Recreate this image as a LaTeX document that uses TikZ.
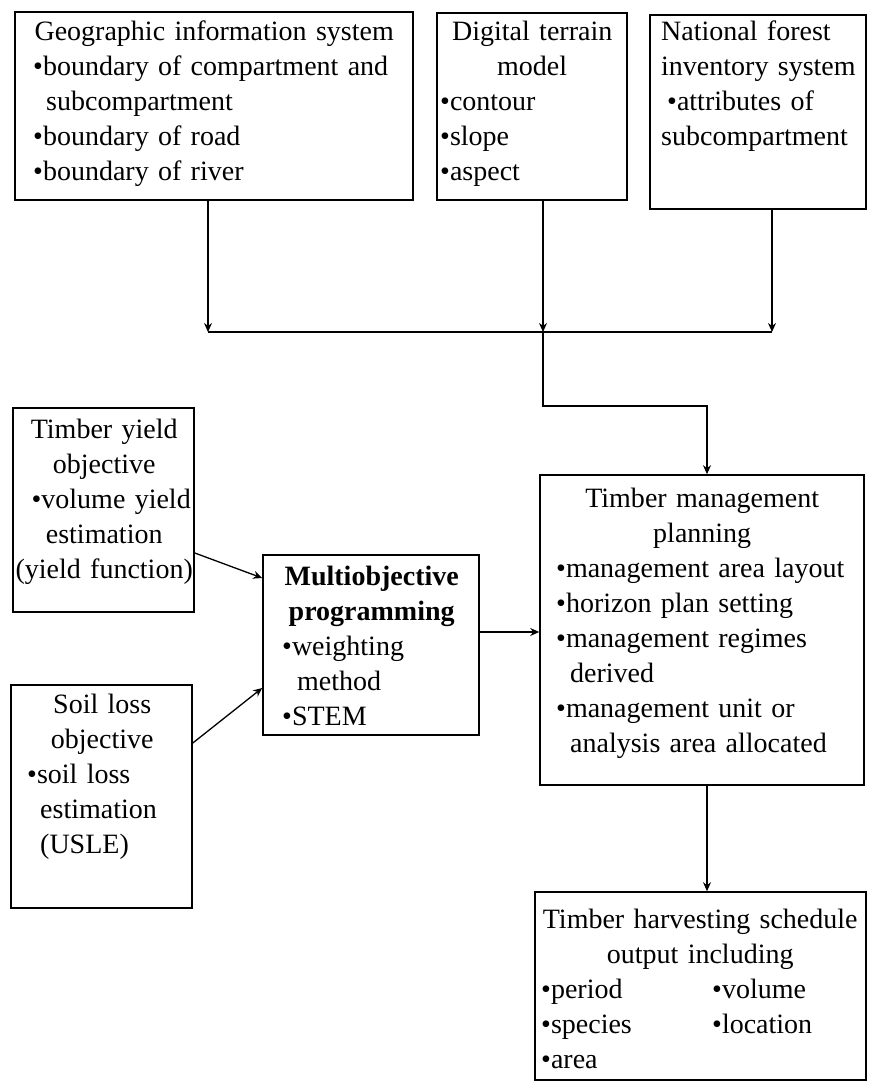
\documentclass[tikz,border=0pt]{standalone}
\usepackage{fontspec}
\setmainfont{Liberation Serif}
\usetikzlibrary{arrows.meta}
\newcommand\cl[1]{\makebox[\linewidth]{#1}}
\tikzset{
  box/.style={draw, line width=1.6pt, inner sep=0pt},
  txt/.style={inner sep=0pt, anchor=north west, align=left, font=\fontsize{28}{35}\selectfont},
  arr/.style={line width=1.3pt, -{Stealth[length=9pt,width=8pt]}},
  ln/.style={line width=1.3pt},
}
\begin{document}
\begin{tikzpicture}[x=1pt,y=-1pt]
\useasboundingbox (0,0) rectangle (868,1083);
% boxes
\node[box, minimum width=398pt, minimum height=188pt] (gis) at (214,106) {};
\node[box, minimum width=190pt, minimum height=187pt] (dtm) at (532,106.5) {};
\node[box, minimum width=216pt, minimum height=194pt] (nfi) at (758,112) {};
\node[box, minimum width=181pt, minimum height=204pt] (ty) at (103.5,510) {};
\node[box, minimum width=181pt, minimum height=223pt] (sl) at (101.5,796.5) {};
\node[box, minimum width=216pt, minimum height=180pt] (mo) at (371,645) {};
\node[box, minimum width=324pt, minimum height=310pt] (tmp) at (702,630) {};
\node[box, minimum width=331pt, minimum height=188pt] (ths) at (700.5,986) {};
% texts
\node[txt, text width=362pt] (gist) at (33,21) {\cl{Geographic information system}\\
•boundary of compartment and\\
\hspace*{13pt}subcompartment\\
•boundary of road\\
•boundary of river};
\node[txt, text width=184pt] (dtmt) at (440,21) {\cl{Digital terrain}\\ \cl{model}\\ •contour\\ •slope\\ •aspect};
\node[txt, text width=192pt] (nfit) at (661,21) {\makebox[\linewidth][s]{National forest}\\
\makebox[\linewidth][s]{inventory system}\\
\hspace*{6pt}•attributes of\\
subcompartment};
\node[txt, text width=180pt] (tyt) at (14,419) {\cl{Timber yield}\\ \cl{objective}\\ \cl{\hspace{14pt}•volume yield}\\ \cl{estimation}\\ \cl{(yield function)}};
\node[txt, text width=180pt] (slt) at (12,694) {\cl{Soil loss}\\ \cl{objective}\\ \hspace*{15pt}•soil loss\\ \hspace*{28pt}estimation\\ \hspace*{28pt}(USLE)};
\node[txt, text width=203pt] (mot) at (270,566) {\cl{\bfseries Multiobjective}\\ \cl{\bfseries programming}\\ \hspace*{12pt}•weighting\\ \hspace*{27pt}method\\ \hspace*{12pt}•STEM};
\node[txt, text width=308pt] (tmpt) at (548,488) {\cl{Timber management}\\ \cl{planning}\\
\hspace*{8pt}•management area layout\\
\hspace*{8pt}•horizon plan setting\\
\hspace*{8pt}•management regimes\\
\hspace*{22pt}derived\\
\hspace*{8pt}•management unit or\\
\hspace*{22pt}analysis area allocated};
\node[txt, text width=318pt] (thst) at (541,909) {\cl{Timber harvesting schedule}\\ \cl{output including}\\
\makebox[171pt][l]{•period}•volume\\
\makebox[171pt][l]{•species}•location\\
•area};
% connectors
\coordinate (bA) at (208,332);
\coordinate (bB) at (543,332);
\coordinate (bC) at (772,332);
\coordinate (s1) at (543,406);
\coordinate (s2) at (707,406);
\draw[arr] (gis.south -| bA) -- (bA);
\draw[arr] (dtm.south -| bB) -- (bB);
\draw[arr] (nfi.south -| bC) -- (bC);
\draw[ln] (bA) -- (bC);
\draw[arr] (bB) -- (s1) -- (s2) -- (tmp.north -| s2);
\draw[arr] (ty.east |- 0,553) -- (mo.west |- 0,578);
\draw[arr] (sl.east |- 0,743) -- (mo.west |- 0,688);
\draw[arr] (mo.east |- 0,632) -- (tmp.west |- 0,632);
\draw[arr] (tmp.south -| s2) -- (ths.north -| s2);
\end{tikzpicture}
\end{document}
